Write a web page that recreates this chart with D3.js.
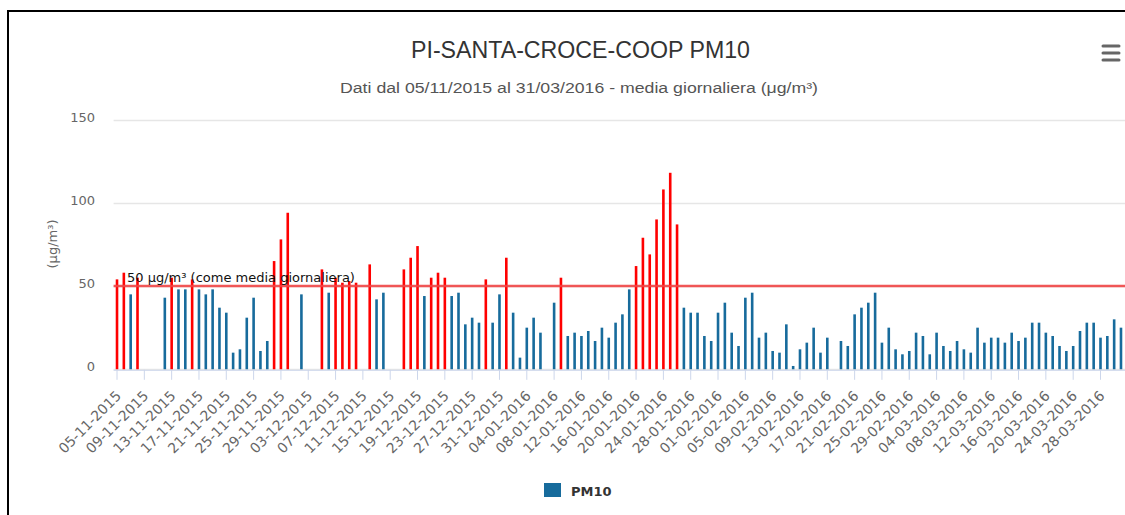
<!DOCTYPE html>
<html>
<head>
<meta charset="utf-8">
<script src="https://cdn.jsdelivr.net/npm/d3@7"></script>
<style>
  html, body { margin: 0; padding: 0; background: #fff; overflow: hidden; }
  svg { display: block; }
  text { font-family: "DejaVu Sans", Verdana, sans-serif; }
</style>
</head>
<body>
<svg id="chart" width="1125" height="515"></svg>
<script>
// ---- data ----
const titleText = "PI-SANTA-CROCE-COOP PM10";
const subtitleText = "Dati dal 05/11/2015 al 31/03/2016 - media giornaliera (μg/m³)";
const startDate = new Date(2015, 10, 5);
const endDate = new Date(2016, 2, 31);
const seriesName = "PM10";
const limitValue = 50;
const limitLabel = "50 μg/m³ (come media giornaliera)";
const yTicks = [0, 50, 100, 150];
const yTitle = "(μg/m³)";
const pm10Values = [
  54, 58, 45, 55, null, null, null, 43, 55, 48,
  48, 54, 48, 45, 48, 37, 34, 10, 12, 31,
  43, 11, 17, 65, 78, 94, null, 45, null, null,
  60, 46, 55, 52, 53, 52, null, 63, 42, 46,
  null, null, 60, 67, 74, 44, 55, 58, 55, 44,
  46, 27, 31, 28, 54, 28, 45, 67, 34, 7,
  25, 31, 22, null, 40, 55, 20, 22, 20, 23,
  17, 25, 19, 28, 33, 48, 62, 79, 69, 90,
  108, 118, 87, 37, 34, 34, 20, 17, 34, 40,
  22, 14, 43, 46, 19, 22, 11, 10, 27, 2,
  12, 16, 25, 10, 19, null, 17, 14, 33, 37,
  40, 46, 16, 25, 12, 9, 11, 22, 20, 9,
  22, 14, 11, 17, 12, 10, 25, 16, 19, 19,
  16, 22, 17, 19, 28, 28, 22, 20, 14, 11,
  14, 23, 28, 28, 19, 20, 30, 25
];
const tickLabels = [
  "05-11-2015", "09-11-2015", "13-11-2015", "17-11-2015", "21-11-2015", "25-11-2015",
  "29-11-2015", "03-12-2015", "07-12-2015", "11-12-2015", "15-12-2015", "19-12-2015",
  "23-12-2015", "27-12-2015", "31-12-2015", "04-01-2016", "08-01-2016", "12-01-2016",
  "16-01-2016", "20-01-2016", "24-01-2016", "28-01-2016", "01-02-2016", "05-02-2016",
  "09-02-2016", "13-02-2016", "17-02-2016", "21-02-2016", "25-02-2016", "29-02-2016",
  "04-03-2016", "08-03-2016", "12-03-2016", "16-03-2016", "20-03-2016", "24-03-2016",
  "28-03-2016"
];

// categories: one per day in the range
const fmt = d3.timeFormat("%d-%m-%Y");
const categories = d3.timeDay.range(startDate, d3.timeDay.offset(endDate, 1)).map(fmt);
const data = categories.map((c, i) => ({ cat: c, v: pm10Values[i] }));

// ---- layout ----
const svg = d3.select("#chart");
const plotLeft = 113.6, plotRight = 1124.4, plotTop = 119.5, plotBottom = 369.3;
const blue = "#176b9c", red = "#ff0000";

// frame
svg.append("rect").attr("x", 8).attr("y", 11).attr("width", 1200).attr("height", 600)
  .attr("fill", "none").attr("stroke", "#000").attr("stroke-width", 2);

const x = d3.scaleBand().domain(categories).range([plotLeft, plotRight]).paddingInner(0).paddingOuter(0);
const y = d3.scaleLinear().domain([0, 150]).range([plotBottom, plotTop]);

// title / subtitle
svg.append("text").attr("x", 580.5).attr("y", 58).attr("text-anchor", "middle")
  .attr("font-size", 24).attr("fill", "#333")
  .attr("textLength", 339).attr("lengthAdjust", "spacingAndGlyphs")
  .style("font-family", "'Liberation Sans', Arial, sans-serif")
  .text(titleText);
svg.append("text").attr("x", 579).attr("y", 93).attr("text-anchor", "middle")
  .attr("font-size", 14).attr("fill", "#555")
  .attr("textLength", 478).attr("lengthAdjust", "spacingAndGlyphs")
  .style("font-family", "'Liberation Sans', Arial, sans-serif")
  .text(subtitleText);

// menu icon
const menu = svg.append("g").attr("stroke", "#666").attr("stroke-width", 3).attr("stroke-linecap", "round");
[46, 53, 60].forEach(yy => menu.append("line").attr("x1", 1103).attr("x2", 1119).attr("y1", yy).attr("y2", yy));

// gridlines
svg.append("g").selectAll("line").data(yTicks).join("line")
  .attr("x1", plotLeft).attr("x2", 1125)
  .attr("y1", d => Math.round(y(d)) + 0.5).attr("y2", d => Math.round(y(d)) + 0.5)
  .attr("stroke", "#e6e6e6").attr("stroke-width", 1.5);

// y axis labels via axis
const yAxis = d3.axisLeft(y).tickValues(yTicks).tickSize(0).tickPadding(0);
const yg = svg.append("g").attr("transform", `translate(95,0)`).call(yAxis);
yg.select(".domain").remove();
yg.selectAll("text").attr("font-size", 13).attr("fill", "#666")
  .style("font-family", "'DejaVu Sans', Verdana, sans-serif").attr("dy", "0.12em");

// y axis title
svg.append("text").attr("transform", "translate(57,244) rotate(-90)")
  .attr("text-anchor", "middle").attr("font-size", 13).attr("fill", "#666").text(yTitle);

// bars
const bw = 2.6;
svg.append("g").selectAll("rect").data(data.filter(d => d.v != null)).join("rect")
  .attr("x", d => x(d.cat) + x.bandwidth() / 2 - bw / 2)
  .attr("y", d => y(d.v))
  .attr("width", bw)
  .attr("height", d => y(0) - y(d.v))
  .attr("fill", d => d.v > limitValue ? red : blue);

// plot line
svg.append("line").attr("x1", plotLeft).attr("x2", 1125)
  .attr("y1", y(limitValue)).attr("y2", y(limitValue))
  .attr("stroke", "#f04545").attr("stroke-width", 2.5).attr("stroke-opacity", 0.9);
svg.append("text").attr("x", 127).attr("y", y(limitValue) - 4)
  .attr("font-size", 13).attr("fill", "#111").text(limitLabel);

// x axis
const xAxis = d3.axisBottom(x).tickValues(tickLabels).tickSize(10).tickPadding(0);
const xg = svg.append("g").attr("transform", `translate(0,${plotBottom + 0.5})`).call(xAxis);
xg.select(".domain").attr("stroke", "#ccd6eb").attr("d", `M${plotLeft},0.5H1125`);
xg.selectAll(".tick line").attr("stroke", "#ccd6eb");
xg.selectAll(".tick text")
  .attr("font-size", 14).attr("fill", "#666")
  .style("font-family", "'DejaVu Sans', Verdana, sans-serif")
  .attr("text-anchor", "end")
  .attr("y", 0).attr("dy", 0)
  .attr("transform", "translate(5,27) rotate(-45)");

// legend
svg.append("rect").attr("x", 544).attr("y", 483).attr("width", 17).attr("height", 14).attr("fill", blue);
svg.append("text").attr("x", 571).attr("y", 495.5).attr("font-size", 13).attr("font-weight", "bold")
  .attr("fill", "#333").text(seriesName);
</script>
</body>
</html>
